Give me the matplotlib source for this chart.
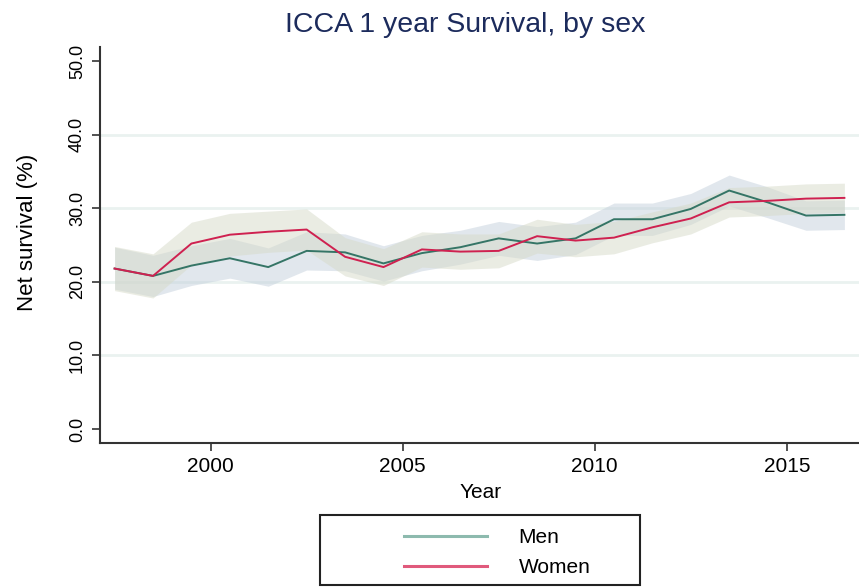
import matplotlib
matplotlib.use("Agg")
import matplotlib.pyplot as plt
from matplotlib.lines import Line2D
from matplotlib.patches import Rectangle

plt.rcParams['font.family'] = ['Liberation Sans', 'DejaVu Sans']

# Datos (supervivencia neta a 1 año, %)
years = [1997.5 + i for i in range(20)]
men = [21.8, 20.8, 22.2, 23.2, 22.0, 24.2, 24.0, 22.5, 23.9, 24.7,
       25.9, 25.2, 25.9, 28.5, 28.5, 29.9, 32.4, 30.8, 29.0, 29.1]
men_lo = [19.0, 18.0, 19.5, 20.5, 19.4, 21.6, 21.5, 20.1, 21.5, 22.4,
          23.6, 22.9, 23.7, 26.3, 26.3, 27.8, 30.3, 28.7, 27.0, 27.1]
men_hi = [24.7, 23.6, 24.9, 25.9, 24.6, 26.8, 26.5, 24.9, 26.3, 27.0,
          28.2, 27.5, 28.1, 30.7, 30.7, 32.0, 34.5, 32.9, 31.0, 31.1]
women = [21.8, 20.8, 25.2, 26.4, 26.8, 27.1, 23.4, 22.0, 24.4, 24.1,
         24.2, 26.2, 25.6, 26.0, 27.4, 28.6, 30.8, 31.0, 31.3, 31.4]
women_lo = [18.8, 17.8, 22.3, 23.5, 24.0, 24.3, 20.8, 19.5, 22.0, 21.7,
            21.9, 23.9, 23.4, 23.8, 25.3, 26.5, 28.8, 29.0, 29.3, 29.4]
women_hi = [24.8, 23.8, 28.1, 29.3, 29.6, 29.9, 26.0, 24.5, 26.8, 26.5,
            26.5, 28.5, 27.8, 28.2, 29.5, 30.7, 32.8, 33.0, 33.3, 33.4]

yticks = [0, 10, 20, 30, 40, 50]
xticks = [2000, 2005, 2010, 2015]

W, H = 859, 587
fig = plt.figure(figsize=(W / 100, H / 100), dpi=100)
ax = fig.add_axes([100 / W, 1 - 443 / H, 1 - 100 / W, (443 - 47) / H])

# Bandas de confianza
ax.fill_between(years, men_lo, men_hi, color='#c4d0dc', alpha=0.5, linewidth=0)
ax.fill_between(years, women_lo, women_hi, color='#d6dac8', alpha=0.5, linewidth=0)

# Líneas
ax.plot(years, men, color='#357566', linewidth=1.4)
ax.plot(years, women, color='#cf2150', linewidth=1.4)

# Grilla horizontal
for v in yticks[1:-1]:
    ax.axhline(v, color='#eaf2f0', linewidth=2, zorder=0)

ax.set_xlim(1997.12, 2016.88)
ax.set_ylim(-1.9, 51.9)
ax.set_xticks(xticks)
ax.set_yticks(yticks)
ax.set_yticklabels([f'{v:.1f}' for v in yticks], rotation=90, va='center')
ax.tick_params(axis='x', labelsize=15, length=6, width=1.2, color='#333333', pad=4)
ax.tick_params(axis='y', labelsize=13, length=6, width=1.2, color='#333333', pad=4)
for s in ['top', 'right']:
    ax.spines[s].set_visible(False)
for s in ['left', 'bottom']:
    ax.spines[s].set_color('#333333')
    ax.spines[s].set_linewidth(1.5)

fig.text(481 / W, 1 - 492 / H, 'Year', ha='center', va='center', fontsize=15)
fig.text(28 / W, 1 - 232 / H, 'Net survival (%)', ha='center', va='center',
         rotation=90, fontsize=16)
fig.text(465 / W, 1 - 25 / H, 'ICCA 1 year Survival, by sex', ha='center',
         va='center', fontsize=20.5, color='#1c2b5c')

# Leyenda
handles = [Line2D([], [], color='#8dbaae', linewidth=2.2),
           Line2D([], [], color='#e05a7c', linewidth=2.2)]
fig.legend(handles, ['Men', 'Women'], loc='upper left',
           bbox_to_anchor=(404 / W, 1 - 528 / H), frameon=False, fontsize=15,
           borderpad=0, borderaxespad=0, handlelength=4.0, handletextpad=1.5,
           labelspacing=0.55)
fig.patches.append(Rectangle((320 / W, 1 - 585 / H), 320 / W, 70 / H,
                             transform=fig.transFigure, fill=False,
                             edgecolor='#222222', linewidth=1.5))

plt.savefig('out.png', dpi=100)
